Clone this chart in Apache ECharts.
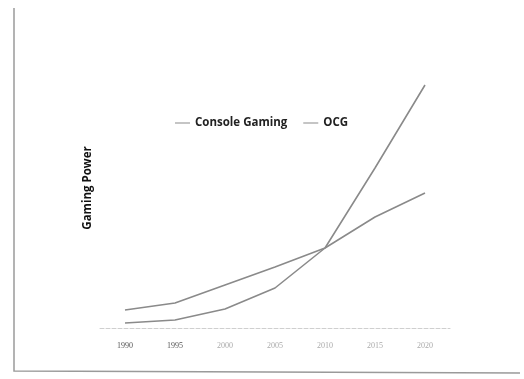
<!DOCTYPE html>
<html>
<head>
    <meta charset="utf-8">
    <title>Gaming Power</title>
    <script src="https://cdn.jsdelivr.net/npm/echarts@6/dist/echarts.min.js"></script>
</head>
<body style="margin:0;background:#fff;">
<div id="main" style="width:524px;height:379px;"></div>

<script type="text/javascript">
    // data (arbitrary "power" units)
    var years = ['1990', '1995', '2000', '2005', '2010', '2015', '2020'];
    var consoleGaming = [18, 25, 43, 61, 80, 111, 135];
    var ocg = [5, 8, 19, 40, 80, 160, 243];

    var chart = echarts.init(document.getElementById('main'));

    var option = {
        backgroundColor: '#fff',
        animation: false,
        color: ['#8a8a8a', '#8a8a8a'],
        graphic: [
            // scanned page frame
            {
                type: 'polyline',
                shape: {points: [[14, 8], [14, 371], [520, 373]]},
                style: {stroke: '#9a9a9a', lineWidth: 1.5, fill: null}
            }
        ],
        legend: {
            left: 170,
            top: 112,
            itemWidth: 15,
            itemHeight: 1,
            itemGap: 16,
            icon: 'rect',
            textStyle: {
                fontFamily: 'Open Sans',
                fontWeight: 'bold',
                fontSize: 11.5,
                color: '#222'
            },
            data: ['Console Gaming', 'OCG']
        },
        grid: {
            left: 100,
            right: 74,
            top: 78,
            bottom: 51
        },
        xAxis: {
            type: 'category',
            boundaryGap: true,
            data: years,
            axisLine: {lineStyle: {color: '#cfcfcf', type: 'dashed', width: 1}},
            axisTick: {show: false},
            axisLabel: {
                margin: 14,
                fontFamily: 'Liberation Serif',
                fontSize: 8,
                color: function (v, i) { return i < 2 ? '#555' : '#aaa'; }
            }
        },
        yAxis: {
            type: 'value',
            min: 0,
            max: 250,
            name: 'Gaming Power',
            nameLocation: 'middle',
            nameGap: 6,
            nameRotate: 90,
            nameTextStyle: {
                fontFamily: 'Open Sans',
                fontWeight: 'bold',
                fontSize: 11.5,
                color: '#111',
                padding: [0, 0, 0, 30]
            },
            axisLine: {show: false},
            axisTick: {show: false},
            axisLabel: {show: false},
            splitLine: {show: false}
        },
        series: [
            {
                name: 'Console Gaming',
                type: 'line',
                symbol: 'none',
                lineStyle: {width: 1.6, color: '#8a8a8a'},
                data: consoleGaming
            },
            {
                name: 'OCG',
                type: 'line',
                symbol: 'none',
                lineStyle: {width: 1.6, color: '#8a8a8a'},
                data: ocg
            }
        ]
    };

    chart.setOption(option);
</script>
</body>
</html>
